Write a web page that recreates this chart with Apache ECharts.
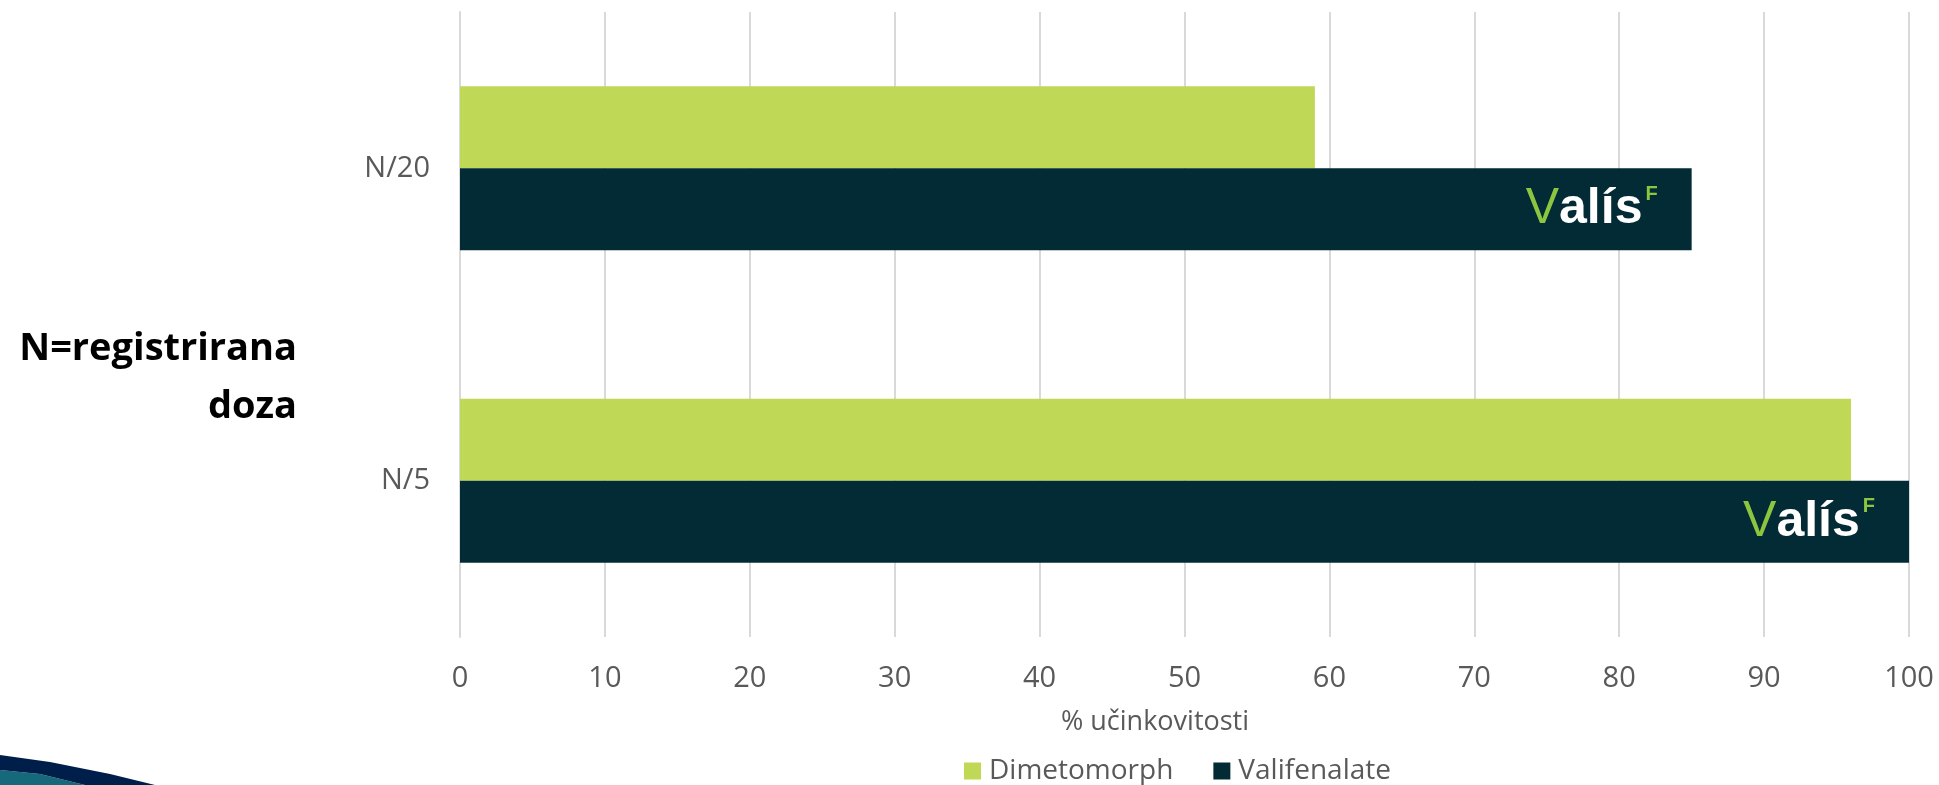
<!DOCTYPE html>
<html><head><meta charset="utf-8">
<script src="https://cdn.jsdelivr.net/npm/echarts@6/dist/echarts.min.js"></script>
<style>html,body{margin:0;padding:0;background:#fff}#c{width:1939px;height:785px}</style>
</head><body><div id="c"></div>
<script>
const categories = ['N/5', 'N/20'];
const dimetomorph = [96, 59];
const valifenalate = [100, 85];
const xTicks = [0, 10, 20, 30, 40, 50, 60, 70, 80, 90, 100];
const seriesNames = ['Dimetomorph', 'Valifenalate'];
const xAxisTitle = '% učinkovitosti';
const yAxisTitle = 'N=registrirana\ndoza';

const chart = echarts.init(document.getElementById('c'));
const logoLabel = {
  show: true,
  position: 'insideRight',
  distance: 34,
  formatter: '{g|V}{w|alís}{s|F}',
  rich: {
    g: {color: '#8cc63f', fontFamily: 'Liberation Sans', fontSize: 50, fontWeight: 'normal'},
    w: {color: '#ffffff', fontFamily: 'Liberation Sans', fontSize: 50, fontWeight: 'bold'},
    s: {color: '#8cc63f', fontFamily: 'Liberation Sans', fontSize: 20, fontWeight: 'bold', verticalAlign: 'top', padding: [0, 0, 26, 3]}
  }
};
chart.setOption({
  animation: false,
  textStyle: {fontFamily: 'Open Sans'},
  grid: {left: 460, right: 30, top: 12, bottom: 148},
  title: {
    text: xAxisTitle, left: 1150, top: 704, textAlign: 'center',
    textStyle: {fontFamily: 'Open Sans', fontSize: 27, fontWeight: 'normal', color: '#595959'}
  },
  legend: {
    data: seriesNames, left: 959, top: 752, itemWidth: 17, itemHeight: 17,
    itemGap: 40, icon: 'rect',
    textStyle: {fontFamily: 'Open Sans', fontSize: 28, color: '#595959', padding: [0, 0, 0, 3]}
  },
  xAxis: {
    type: 'value', min: 0, max: 100, interval: 10,
    axisLine: {show: false}, axisTick: {show: false},
    axisLabel: {fontSize: 29, color: '#595959', margin: 27, fontFamily: 'Open Sans'},
    splitLine: {lineStyle: {color: '#d9d9d9', width: 2}}
  },
  yAxis: {
    type: 'category', data: categories,
    axisLine: {show: true, lineStyle: {color: '#d9d9d9', width: 2}},
    axisTick: {show: false},
    axisLabel: {fontSize: 29, color: '#595959', margin: 30, fontFamily: 'Open Sans'}
  },
  series: [
    {name: seriesNames[0], type: 'bar', data: dimetomorph, barWidth: 82, barGap: '0%',
     itemStyle: {color: '#bfd957'}},
    {name: seriesNames[1], type: 'bar', data: valifenalate, barWidth: 82,
     itemStyle: {color: '#032b36'}, label: logoLabel}
  ],
  graphic: [
    {type: 'text', right: 1939 - 297, top: 320, style: {
      text: yAxisTitle, fontFamily: 'Open Sans', fontWeight: 'bold', fontSize: 38,
      fill: '#000', textAlign: 'right', lineHeight: 58}},
    {type: 'polygon', shape: {points: [[0, 770], [40, 774], [85, 785], [0, 785]]}, style: {fill: '#16697a'}},
    {type: 'polygon', shape: {points: [[0, 755], [50, 762], [110, 774], [155, 785], [85, 785], [40, 774], [0, 770]]}, style: {fill: '#001e4a'}}
  ]
});
</script></body></html>
